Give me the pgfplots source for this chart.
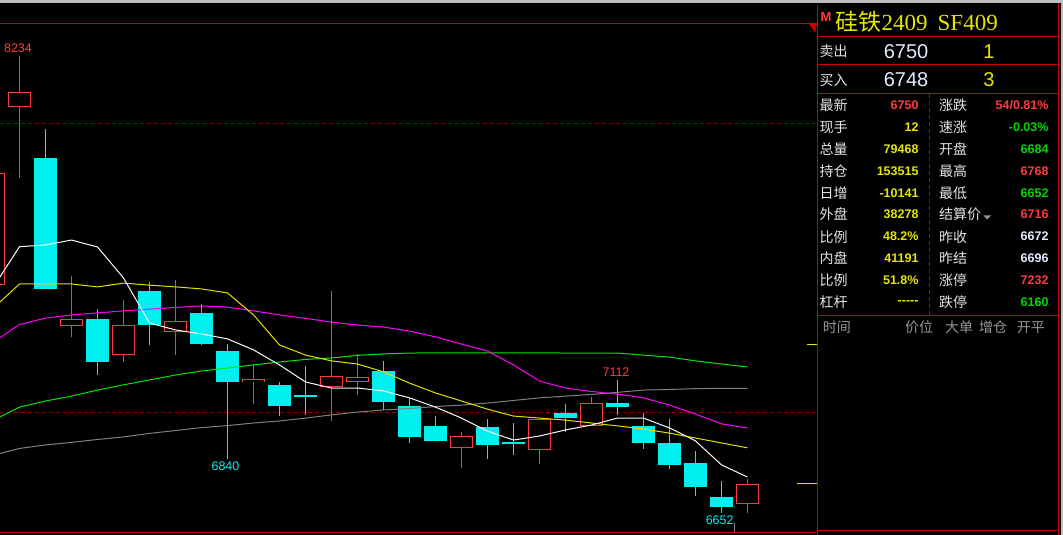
\documentclass[border=0pt]{standalone}
\usepackage{pgfplots}
\pgfplotsset{compat=1.18}
\usepackage{pgfplotstable}
\usepackage{fontspec}
\setmainfont{Liberation Sans}
\newfontfamily\cjk{Noto Sans CJK SC}
\newfontfamily\serifnum{Liberation Serif}

\definecolor{frame}{RGB}{200,0,0}
\definecolor{gridred}{RGB}{150,0,0}
\definecolor{upred}{RGB}{255,60,60}
\definecolor{dncyan}{RGB}{0,240,240}
\definecolor{maW}{RGB}{250,250,250}
\definecolor{maY}{RGB}{225,225,0}
\definecolor{maM}{RGB}{255,0,255}
\definecolor{maG}{RGB}{0,230,0}
\definecolor{maGr}{RGB}{128,128,128}
\definecolor{txtW}{RGB}{228,228,228}
\definecolor{txtY}{RGB}{230,230,0}
\definecolor{txtR}{RGB}{255,60,60}
\definecolor{txtG}{RGB}{0,215,0}
\definecolor{txtB}{RGB}{228,236,255}
\definecolor{txtGray}{RGB}{150,150,150}
\definecolor{topgray}{RGB}{190,190,190}

% up (red, hollow) candles: index, open, high, low, close
\pgfplotstableread{
k O H L C
0 7442 7900 7400 7826
1 8057 8234 7810 8108
3 7301 7473 7259 7320
5 7200 7390 7173 7302
7 7281 7459 7200 7316
10 7105 7162 7030 7115
13 7090 7421 6969 7123
14 7107 7203 7061 7120
18 6879 6933 6809 6918
21 6872 6980 6820 6974
23 6956 7054 6956 7032
29 6684 6768 6652 6750
}\upcandles

% down (cyan, filled) candles
\pgfplotstableread{
k O H L C
2 7881 7981 7428 7428
4 7324 7359 7130 7173
6 7421 7452 7232 7301
8 7345 7376 7232 7238
9 7213 7237 6840 7104
11 7096 7106 6989 7021
12 7061 7161 6992 7055
15 7144 7179 7009 7034
16 7023 7050 6893 6913
17 6954 6988 6900 6902
19 6950 6978 6840 6886
20 6896 6964 6853 6889
22 6999 7030 6932 6982
24 7033 7112 6989 7017
25 6954 6998 6872 6893
26 6895 6978 6803 6816
27 6826 6867 6709 6740
28 6708 6761 6652 6672
}\downcandles

% moving averages
\pgfplotstableread{
k w y m g r
0 7434 7361 7243 6973 6852
1 7573 7444 7304 7018 6875
2 7579 7444 7326 7039 6887
3 7596 7444 7337 7056 6896
4 7572 7434 7344 7077 6906
5 7465 7447 7351 7095 6915
6 7309 7440 7357 7112 6927
7 7285 7434 7363 7129 6937
8 7271 7427 7368 7143 6947
9 7254 7413 7364 7153 6954
10 7216 7337 7351 7164 6963
11 7164 7233 7337 7174 6970
12 7105 7198 7325 7183 6980
13 7084 7178 7312 7188 6991
14 7084 7167 7302 7197 7001
15 7074 7140 7295 7202 7008
16 7050 7101 7281 7205 7013
17 7018 7067 7261 7206 7020
18 6980 7039 7236 7206 7025
19 6935 7011 7212 7206 7032
20 6904 6987 7164 7206 7041
21 6918 6980 7108 7206 7050
22 6939 6973 7084 7205 7056
23 6956 6963 7072 7205 7062
24 6980 6953 7063 7205 7069
25 6980 6942 7050 7198 7077
26 6946 6928 7025 7191 7079
27 6901 6911 6994 7178 7082
28 6818 6894 6960 7167 7083
29 6776 6877 6946 7157 7083
}\mavg

\newcommand{\lab}[1]{{\cjk #1}}
\pgfplotsset{candle/.style 2 args={only marks, mark=*, mark size=0pt,
  mark options={draw=none, fill=none},
  error bars/.cd, y dir=both, y explicit, error mark=none,
  error bar style={draw=#1, line width=#2, line cap=butt, line join=miter}}}
\begin{document}
\begin{tikzpicture}[x=1bp,y=1bp]
\fill[black] (0bp,0bp) rectangle (1063bp,535bp);

\begin{axis}[
  at={(0bp,3bp)}, anchor=south west,
  scale only axis, width=817bp, height=509bp,
  xmin=0.25, xmax=31.673, ymin=6585.9, ymax=8347,
  axis line style={draw=none},
  xtick=\empty, ytick={7000,8000}, yticklabels={},
  major tick length=0pt,
  ymajorgrids,
  major grid style={draw=gridred, line width=1bp, dash pattern=on 4bp off 3bp},
]
% wicks
\addplot[candle={upred}{1bp}]
  table[x=k, y expr=(\thisrow{H}+\thisrow{L})/2, y error expr=(\thisrow{H}-\thisrow{L})/2] {\upcandles};
\addplot[candle={dncyan}{1bp}]
  table[x=k, y expr=(\thisrow{H}+\thisrow{L})/2, y error expr=(\thisrow{H}-\thisrow{L})/2] {\downcandles};
% hollow red bodies
\addplot[candle={upred}{22.5bp}]
  table[x=k, y expr=(\thisrow{O}+\thisrow{C})/2, y error expr=(\thisrow{C}-\thisrow{O})/2+1.73] {\upcandles};
\addplot[candle={black}{20.5bp}]
  table[x=k, y expr=(\thisrow{O}+\thisrow{C})/2, y error expr=(\thisrow{C}-\thisrow{O})/2-1.73] {\upcandles};
% filled cyan bodies
\addplot[candle={dncyan}{22.5bp}]
  table[x=k, y expr=(\thisrow{O}+\thisrow{C})/2, y error expr=(\thisrow{O}-\thisrow{C})/2] {\downcandles};
% moving averages
\addplot[maGr, line width=1bp] table[x=k, y=r] {\mavg};
\addplot[maG, line width=1bp] table[x=k, y=g] {\mavg};
\addplot[maM, line width=1bp] table[x=k, y=m] {\mavg};
\addplot[maY, line width=1bp] table[x=k, y=y] {\mavg};
\addplot[maW, line width=1bp] table[x=k, y=w] {\mavg};
\end{axis}

\begin{scope}[shift={(0bp,535bp)}, yscale=-1]
\fill[topgray] (0,0) rectangle (1063,3);
\fill[topgray] (1060.5,0) rectangle (1063,535);
% chart frame
\draw[frame, line width=1bp] (0,23.3) -- (817,23.3);
\draw[frame, line width=1bp] (0,532.3) -- (817,532.3);
\fill[frame] (808.3,23) -- (817.3,23) -- (815,32.3) -- cycle;
% right markers
\draw[txtY, line width=1bp] (807,345) -- (817,345);
\draw[txtY, line width=1bp] (797,484) -- (817,484);
\draw[maGr, line width=1bp] (734.3,523) -- (734.3,532);
% extreme labels
\begin{scope}[every node/.style={inner sep=0pt, font=\fontsize{12.5bp}{13bp}\selectfont}]
\node[text=upred] at (18,48.3) {8234};
\node[text=dncyan] at (225.5,466.7) {6840};
\node[text=upred] at (616,372.3) {7112};
\node[text=dncyan] at (719.7,520) {6652};
\end{scope}
% panel frame
\draw[frame, line width=1bp] (817.3,5) -- (817.3,535);
\draw[frame, line width=1bp] (1058.3,3) -- (1058.3,535);
\draw[frame, line width=1bp] (817.3,36.5) -- (1058.3,36.5);
\draw[frame, line width=1bp] (817.3,64.3) -- (1058.3,64.3);
\draw[frame, line width=1bp] (817.3,93.3) -- (1058.3,93.3);
\draw[frame, line width=1bp] (817.3,315.5) -- (1058.3,315.5);
\draw[frame, line width=1bp] (817.3,531) -- (1058.3,531);
\draw[frame, line width=1bp, dash pattern=on 4bp off 3bp] (929.7,94) -- (929.7,315);
% title
\node[anchor=west, inner sep=0pt, text=txtR, font=\bfseries\fontsize{13bp}{13bp}\selectfont] at (820.5,17) {M};
\node[anchor=west, inner sep=0pt, text=txtY, font=\serifnum\fontsize{23bp}{25bp}\selectfont] at (835.5,21.5) {\lab{硅铁}2409\hspace{10bp}SF409};
% bid/ask
\begin{scope}[every node/.style={inner sep=0pt}]
\node[anchor=west, text=txtW, font=\fontsize{14bp}{16bp}\selectfont] at (819.5,51.7) {\lab{卖出}};
\node[anchor=west, text=txtW, font=\fontsize{14bp}{16bp}\selectfont] at (819.5,80) {\lab{买入}};
\node[anchor=east, text=txtB, font=\fontsize{20bp}{22bp}\selectfont] at (928.5,52) {6750};
\node[anchor=east, text=txtB, font=\fontsize{20bp}{22bp}\selectfont] at (928.5,80) {6748};
\node[text=txtY, font=\fontsize{20bp}{22bp}\selectfont] at (989,52) {1};
\node[text=txtY, font=\fontsize{20bp}{22bp}\selectfont] at (989,80) {3};
\end{scope}
% quote rows
\begin{scope}[every node/.style={inner sep=0pt}]
\def\LF{\fontsize{14bp}{16bp}\selectfont}
\def\VF{\bfseries\fontsize{12.5bp}{14bp}\selectfont}
\foreach \yy/\la/\va/\ca/\lb/\vb/\cb in {
  105/最新/6750/txtR/涨跌/{54/0.81\%}/txtR,
  127/现手/12/txtY/速涨/-0.03\%/txtG,
  149/总量/79468/txtY/开盘/6684/txtG,
  171/持仓/153515/txtY/最高/6768/txtR,
  193/日增/-10141/txtY/最低/6652/txtG,
  214.5/外盘/38278/txtY/结算价/6716/txtR,
  236.7/比例/48.2\%/txtY/昨收/6672/txtB,
  258.5/内盘/41191/txtY/昨结/6696/txtB,
  280.5/比例/51.8\%/txtY/涨停/7232/txtR,
  302.5/杠杆/{{-}{-}{-}{-}{-}}/txtY/跌停/6160/txtG}{
  \node[anchor=west, text=txtW, font=\LF] at (819.5,\yy) {\lab{\la}};
  \node[anchor=east, text=\ca, font=\VF] at (918.7,\yy) {\va};
  \node[anchor=west, text=txtW, font=\LF] at (939,\yy) {\lab{\lb}};
  \node[anchor=east, text=\cb, font=\VF] at (1048.7,\yy) {\vb};
}
\fill[txtGray] (983.5,215.5) -- (991,215.5) -- (987.2,219.5) -- cycle;
% trade list header
\node[anchor=west, text=txtGray, font=\LF] at (822.7,327.3) {\lab{时间}};
\node[anchor=west, text=txtGray, font=\LF] at (905,327.3) {\lab{价位}};
\node[anchor=west, text=txtGray, font=\LF] at (945,327.3) {\lab{大单}};
\node[anchor=west, text=txtGray, font=\LF] at (979,327.3) {\lab{增仓}};
\node[anchor=west, text=txtGray, font=\LF] at (1016.7,327.3) {\lab{开平}};
\end{scope}
\end{scope}
\pgfresetboundingbox
\useasboundingbox (0bp,0bp) rectangle (1063bp,535bp);
\end{tikzpicture}
\end{document}
